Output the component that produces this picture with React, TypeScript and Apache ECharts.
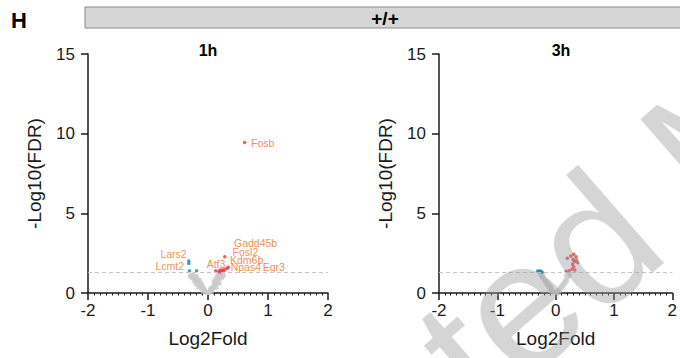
import React, { useEffect, useRef } from "react";
import * as echarts from "echarts";

const panelTitles = ["1h", "3h"];
const headerText = "+/+";
const panelLetter = "H";
const xMin = -2;
const xMax = 2;
const yMin = 0;
const yMax = 15;
const fdrThreshold = 1.3;

// Panel 1 (1h)
const gray1: [number, number][] = [
  [-0.03, 0.05], [-0.05, 0.15], [-0.08, 0.1], [-0.07, 0.3], [-0.1, 0.25], [-0.09, 0.45],
  [-0.12, 0.4], [-0.13, 0.6], [-0.15, 0.5], [-0.16, 0.7], [-0.18, 0.65], [-0.17, 0.85],
  [-0.2, 0.8], [-0.22, 0.9], [-0.21, 1.0], [-0.24, 0.95], [-0.26, 1.05], [-0.28, 1.1],
  [-0.25, 1.15], [-0.14, 0.8], [-0.11, 0.6], [-0.19, 1.05], [-0.23, 0.75], [-0.27, 0.95],
  [-0.3, 1.05], [-0.06, 0.2], [-0.15, 0.35], [-0.2, 0.55],
  [0.0, 0.02], [0.02, 0.05], [0.04, 0.12], [0.06, 0.1], [0.06, 0.3], [0.08, 0.25], [0.09, 0.45],
  [0.11, 0.4], [0.11, 0.6], [0.13, 0.55], [0.14, 0.75], [0.16, 0.7], [0.16, 0.9],
  [0.18, 0.85], [0.19, 1.05], [0.21, 1.0], [0.22, 1.2], [0.24, 1.15], [0.2, 1.25],
  [0.12, 0.85], [0.1, 0.7], [0.23, 0.95], [0.26, 1.1], [0.15, 1.05], [0.17, 1.15],
  [0.14, 0.35], [0.19, 0.6], [0.04, 0.25],
];
const up1: [number, number][] = [
  [0.61, 9.44], [0.28, 2.28], [0.13, 1.4], [0.18, 1.34], [0.22, 1.34], [0.24, 1.44],
  [0.28, 1.49], [0.32, 1.55], [0.34, 1.61], [0.26, 1.36], [0.2, 1.45],
];
const down1: [number, number][] = [
  [-0.32, 2.0], [-0.32, 1.85], [-0.31, 1.4], [-0.19, 1.4],
];
const labels1 = [
  { name: "Fosb", x: 0.717, y: 9.43, side: "right" },
  { name: "Gadd45b", x: 0.433, y: 3.16, side: "right" },
  { name: "Fosl2", x: 0.41, y: 2.6, side: "right" },
  { name: "Kdm6b", x: 0.367, y: 2.06, side: "right" },
  { name: "Npas4", x: 0.378, y: 1.62, side: "right" },
  { name: "Egr3", x: 0.912, y: 1.62, side: "right" },
  { name: "Atf3", x: -0.022, y: 1.8, side: "right" },
  { name: "Lars2", x: -0.355, y: 2.43, side: "left" },
  { name: "Lcmt2", x: -0.4, y: 1.71, side: "left" },
];

// Panel 2 (3h)
const gray2: [number, number][] = [
  [-0.03, 0.05], [-0.05, 0.15], [-0.08, 0.1], [-0.07, 0.3], [-0.1, 0.25], [-0.09, 0.45],
  [-0.12, 0.4], [-0.13, 0.6], [-0.15, 0.55], [-0.16, 0.75], [-0.18, 0.7], [-0.2, 0.85],
  [-0.22, 0.95], [-0.24, 1.05], [-0.26, 1.15], [-0.21, 1.1],
  [0.01, 0.03], [0.03, 0.1], [0.05, 0.2], [0.07, 0.15], [0.08, 0.35], [0.1, 0.3],
  [0.11, 0.5], [0.13, 0.45], [0.14, 0.65], [0.16, 0.6], [0.17, 0.8], [0.19, 0.75],
  [0.2, 0.95], [0.22, 1.05], [0.24, 1.15], [0.18, 1.1],
];
const up2: [number, number][] = [
  [0.31, 2.43], [0.26, 2.32], [0.35, 2.28], [0.2, 2.18], [0.3, 2.11], [0.36, 2.07],
  [0.32, 1.96], [0.38, 1.9], [0.29, 1.8], [0.31, 1.65], [0.28, 1.49], [0.23, 1.4],
  [0.18, 1.36], [0.33, 1.44],
];
const down2: [number, number][] = [
  [-0.31, 1.38], [-0.29, 1.32], [-0.27, 1.4], [-0.25, 1.35], [-0.23, 1.3],
];

const FONT = "'Liberation Sans', Arial, sans-serif";
const AXIS_COLOR = "#1a1a1a";
const UP_COLOR = "#f0353d";
const DOWN_COLOR = "#1b8ca8";
const GRAY_COLOR = "#cacaca";
const LABEL_COLOR = "#f37021";

export default function App() {
  const ref = useRef<HTMLDivElement>(null);

  useEffect(() => {
    if (!ref.current) return;
    const chart = echarts.init(ref.current, null, { renderer: "svg" });

    const grids = [
      { left: 88, top: 54, width: 240, height: 239 },
      { left: 439, top: 54, width: 238.6, height: 239 },
    ];

    const xAxes = grids.map((_, i) => ({
      type: "value" as const,
      gridIndex: i,
      min: xMin,
      max: xMax,
      interval: 1,
      name: "Log2Fold",
      nameLocation: "middle" as const,
      nameGap: 36,
      nameTextStyle: { fontFamily: FONT, fontSize: 19, color: "#1a1a1a" },
      axisLine: { show: true, onZero: false, lineStyle: { color: AXIS_COLOR, width: 1.5 } },
      axisTick: { show: true, inside: false, length: 7, lineStyle: { color: AXIS_COLOR, width: 1.5 } },
      minorTick: { show: true, splitNumber: 10, length: 2.5, lineStyle: { color: AXIS_COLOR, width: 1 } },
      splitLine: { show: false },
      minorSplitLine: { show: false },
      axisLabel: { fontFamily: FONT, fontSize: 17, color: "#1a1a1a", margin: 9 },
    }));

    const yAxes = grids.map((_, i) => ({
      type: "value" as const,
      gridIndex: i,
      min: yMin,
      max: yMax,
      interval: 5,
      name: "-Log10(FDR)",
      nameLocation: "middle" as const,
      nameGap: 44,
      nameTextStyle: { fontFamily: FONT, fontSize: 19, color: "#1a1a1a" },
      axisLine: { show: true, onZero: false, lineStyle: { color: AXIS_COLOR, width: 1.5 } },
      axisTick: { show: true, inside: false, length: 7, lineStyle: { color: AXIS_COLOR, width: 1.5 } },
      splitLine: { show: false },
      axisLabel: { fontFamily: FONT, fontSize: 17, color: "#1a1a1a", margin: 13 },
    }));

    const panelData = [
      { gray: gray1, up: up1, down: down1, labels: labels1 },
      { gray: gray2, up: up2, down: down2, labels: [] as typeof labels1 },
    ];

    const series: any[] = [];
    panelData.forEach((p, i) => {
      series.push({
        type: "scatter",
        xAxisIndex: i,
        yAxisIndex: i,
        data: p.gray,
        symbolSize: 5,
        itemStyle: { color: GRAY_COLOR },
        silent: true,
        z: 2,
        markLine: {
          silent: true,
          symbol: ["none", "none"],
          label: { show: false },
          lineStyle: { color: "#c4c4c4", type: [4, 3], width: 1.2 },
          data: [{ yAxis: fdrThreshold }],
        },
      });
      series.push({
        type: "scatter",
        xAxisIndex: i,
        yAxisIndex: i,
        data: p.down,
        symbolSize: 3.5,
        itemStyle: { color: DOWN_COLOR },
        z: 3,
      });
      series.push({
        type: "scatter",
        xAxisIndex: i,
        yAxisIndex: i,
        data: p.up,
        symbolSize: 3.5,
        itemStyle: { color: UP_COLOR },
        z: 3,
      });
      series.push({
        type: "scatter",
        xAxisIndex: i,
        yAxisIndex: i,
        symbolSize: 0,
        z: 4,
        data: p.labels.map((l) => ({
          value: [l.x, l.y],
          name: l.name,
          label: {
            show: true,
            position: l.side === "left" ? "left" : "right",
            distance: 0,
            formatter: l.name,
            fontFamily: FONT,
            fontSize: 10.5,
            color: LABEL_COLOR,
          },
        })),
      });
    });

    const graphic: any[] = [
      {
        type: "text",
        left: 11,
        top: 9,
        style: { text: panelLetter, font: `bold 22px ${FONT}`, fill: "#000" },
      },
      {
        type: "rect",
        shape: { x: 85, y: 7, width: 620, height: 21 },
        style: { fill: "#d6d6d6", stroke: "#8a8a8a", lineWidth: 1 },
      },
      {
        type: "text",
        x: 385,
        y: 18,
        style: {
          text: headerText,
          font: `bold 19px ${FONT}`,
          fill: "#000",
          align: "center",
          verticalAlign: "middle",
        },
      },
      {
        type: "text",
        x: 208,
        y: 50,
        style: { text: panelTitles[0], font: `bold 16px ${FONT}`, fill: "#000", align: "center", verticalAlign: "middle" },
      },
      {
        type: "text",
        x: 561,
        y: 50,
        style: { text: panelTitles[1], font: `bold 16px ${FONT}`, fill: "#000", align: "center", verticalAlign: "middle" },
      },
      {
        type: "text",
        x: 125,
        y: 768,
        rotation: 0.716,
        z: 100,
        silent: true,
        style: {
          text: "Accepted Manuscript",
          font: `180px ${FONT}`,
          fill: "rgba(150,150,150,0.4)",
          align: "left",
          verticalAlign: "bottom",
        },
      },
    ];

    chart.setOption({
      animation: false,
      grid: grids,
      xAxis: xAxes,
      yAxis: yAxes,
      series,
      graphic,
    });

    return () => chart.dispose();
  }, []);

  return (
    <div
      ref={ref}
      style={{ width: 680, height: 358, position: "absolute", left: 0, top: 0, background: "#fff" }}
    />
  );
}
